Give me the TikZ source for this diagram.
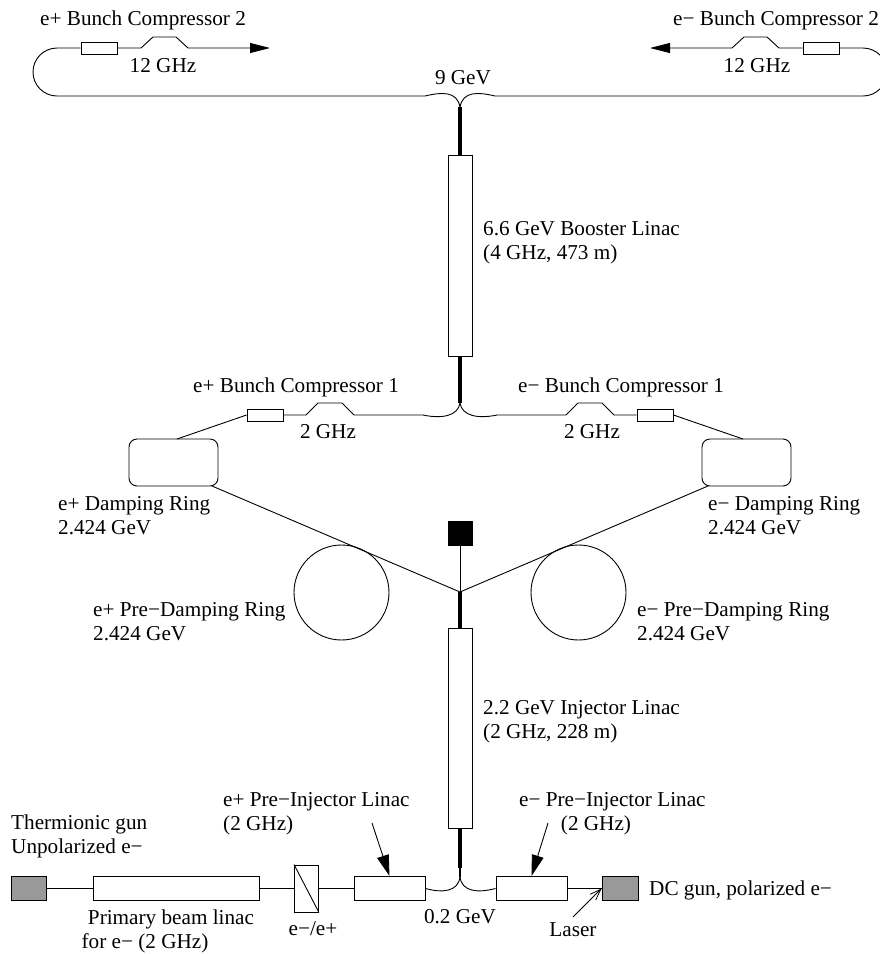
\documentclass[tikz,border=0pt]{standalone}
\usepackage{fontspec}
\setmainfont{Liberation Serif}
\usetikzlibrary{arrows.meta,positioning}
\definecolor{GunGray}{HTML}{999999}
\tikzset{
  beamline/.style={draw=black, line width=0.9pt},
  thickline/.style={draw=black, line width=3.6pt},
  linacbox/.style={draw=black, line width=0.9pt, fill=white, rectangle, minimum width=0pt, minimum height=0pt, inner sep=0pt},
  gunbox/.style={linacbox, fill=GunGray},
  ringbox/.style={linacbox, rounded corners=8pt},
  ringcirc/.style={draw=black, line width=0.9pt, fill=white, circle, inner sep=0pt},
  lbl/.style={font=\fontsize{21.2}{24}\selectfont, inner sep=0pt, align=left},
  tipbig/.style={-{Triangle[length=20pt,width=10pt]}},
  tipmid/.style={-{Triangle[length=21pt,width=12pt]}}
}
\begin{document}
\begin{tikzpicture}[x=1pt,y=-1pt]
  \useasboundingbox (0,0) rectangle (880,954);
  % top transfer lines
  \node[linacbox, minimum width=36pt, minimum height=12pt] (bcTopL) at (99,48) {};
  \node[linacbox, minimum width=36pt, minimum height=12pt] (bcTopR) at (821,48) {};
  \coordinate (tipTopL) at (270,48);
  \coordinate (tipTopR) at (650,48);
  \coordinate (jTop) at (460,107);
  \draw[beamline] (bcTopL.west) -- (57,48) arc[start angle=-90, end angle=-270, radius=24] -- (425,96)
    .. controls (442,92) and (457,91) .. (jTop);
  \draw[beamline] (bcTopR.east) -- (863,48) arc[start angle=-90, end angle=90, radius=24] -- (495,96)
    .. controls (478,92) and (463,91) .. (jTop);
  \draw[beamline, tipbig] (bcTopL.east) -- (141,48) -- (153,37) -- (176,37) -- (188,48) -- (tipTopL);
  \draw[beamline, tipbig] (bcTopR.west) -- (779,48) -- (767,37) -- (744,37) -- (732,48) -- (tipTopR);
  % booster
  \node[linacbox, minimum width=24pt, minimum height=201pt] (booster) at (460,255.5) {};
  \draw[thickline] (jTop) -- (booster.north);
  % bunch compressors 1
  \node[linacbox, minimum width=36pt, minimum height=12pt] (bcMidL) at (265,415) {};
  \node[linacbox, minimum width=36pt, minimum height=12pt] (bcMidR) at (655,415) {};
  \node[ringbox, minimum width=89pt, minimum height=47pt] (drL) at (173.5,462.5) {};
  \node[ringbox, minimum width=89pt, minimum height=47pt] (drR) at (746.5,462.5) {};
  \coordinate (jMid) at (460,403);
  \coordinate (drLin) at (177,439);
  \coordinate (drRin) at (743,439);
  \coordinate (drLout) at (212,486);
  \coordinate (drRout) at (708,486);
  \draw[thickline] (booster.south) -- (jMid);
  \draw[beamline] (bcMidL.east) -- (306,415) -- (318,403) -- (342,403) -- (354,415) -- (423,415)
    .. controls (442,419) and (458,416) .. (jMid);
  \draw[beamline] (bcMidR.west) -- (614,415) -- (602,403) -- (578,403) -- (566,415) -- (497,415)
    .. controls (478,419) and (462,416) .. (jMid);
  \draw[beamline] (bcMidL.west) -- (drLin);
  \draw[beamline] (bcMidR.east) -- (drRin);
  % pre-damping rings
  \node[ringcirc, minimum size=95pt] (pdrL) at (341.5,592.5) {};
  \node[ringcirc, minimum size=95pt] (pdrR) at (578.5,592.5) {};
  \node[gunbox, fill=black, minimum width=24pt, minimum height=24pt] (src) at (460,533) {};
  \coordinate (jLow) at (460,592);
  \draw[beamline] (drLout) -- (jLow);
  \draw[beamline] (drRout) -- (jLow);
  \draw[beamline] (src.south) -- (jLow);
  % injector
  \node[linacbox, minimum width=24pt, minimum height=200pt] (injector) at (460,728) {};
  \draw[thickline] (jLow) -- (injector.north);
  \coordinate (jBot) at (460,877);
  \draw[thickline] (injector.south) -- (460,868);
  \draw[line width=1.8pt] (460,866) -- (jBot);
  % bottom line
  \node[gunbox, minimum width=35pt, minimum height=24pt] (gunL) at (28.5,888.5) {};
  \node[linacbox, minimum width=166pt, minimum height=24pt] (primary) at (176,888.5) {};
  \node[linacbox, minimum width=24pt, minimum height=47pt] (conv) at (306.5,888.5) {};
  \node[linacbox, minimum width=71pt, minimum height=24pt] (preL) at (389.5,888.5) {};
  \node[linacbox, minimum width=71pt, minimum height=24pt] (preR) at (531.5,888.5) {};
  \node[gunbox, minimum width=36pt, minimum height=24pt] (gunR) at (620,888.5) {};
  \draw[beamline] (gunL) -- (primary);
  \draw[beamline] (primary) -- (conv);
  \draw[beamline] (conv) -- (preL);
  \draw[beamline] (conv.north west) -- (conv.south east);
  \draw[beamline] (preR) -- (gunR);
  \draw[beamline] (preL.east) .. controls (442,893) and (458,892) .. (jBot);
  \draw[beamline] (preR.west) .. controls (478,893) and (462,892) .. (jBot);
  % pointers
  \coordinate (ptrL) at (372,823);
  \coordinate (ptrR) at (548,823);
  \coordinate (ptrLaser) at (573,917);
  \draw[beamline, tipmid] (ptrL) -- (preL.north);
  \draw[beamline, tipmid] (ptrR) -- (preR.north);
  \draw[line width=0.8pt, -{Straight Barb[length=11pt,width=8pt]}] (ptrLaser) -- (gunR.west);
  % labels
  \node[lbl, anchor=base west] (tTopL) at (40,25) {e+ Bunch Compressor 2};
  \node[lbl, anchor=base west] (tTopR) at (673,25) {e− Bunch Compressor 2};
  \node[lbl, anchor=base] (gTopL) at (163,72) {12 GHz};
  \node[lbl, anchor=base] (gTopR) at (757,72) {12 GHz};
  \node[lbl, anchor=base] (eTop) at (463,84) {9 GeV};
  \node[lbl, anchor=base west] (tBoost) at (483,235) {6.6 GeV Booster Linac};
  \node[lbl, anchor=base west] (tBoostB) at (483,259) {(4 GHz, 473 m)};
  \node[lbl, anchor=base west] (tMidL) at (193,392) {e+ Bunch Compressor 1};
  \node[lbl, anchor=base west] (tMidR) at (518,392) {e− Bunch Compressor 1};
  \node[lbl, anchor=base] (gMidL) at (328,438) {2 GHz};
  \node[lbl, anchor=base] (gMidR) at (592,438) {2 GHz};
  \node[lbl, anchor=base west] (tDrL) at (58,510) {e+ Damping Ring};
  \node[lbl, anchor=base west] (tDrLb) at (58,534) {2.424 GeV};
  \node[lbl, anchor=base west] (tDrR) at (708,510) {e− Damping Ring};
  \node[lbl, anchor=base west] (tDrRb) at (708,534) {2.424 GeV};
  \node[lbl, anchor=base west] (tPdrL) at (93,616) {e+ Pre−Damping Ring};
  \node[lbl, anchor=base west] (tPdrLb) at (93,640) {2.424 GeV};
  \node[lbl, anchor=base west] (tPdrR) at (637,616) {e− Pre−Damping Ring};
  \node[lbl, anchor=base west] (tPdrRb) at (637,640) {2.424 GeV};
  \node[lbl, anchor=base west] (tInj) at (483,714) {2.2 GeV Injector Linac};
  \node[lbl, anchor=base west] (tInjb) at (483,738) {(2 GHz, 228 m)};
  \node[lbl, anchor=base west] (tPreL) at (223,806) {e+ Pre−Injector Linac};
  \node[lbl, anchor=base west] (tPreLb) at (223,830) {(2 GHz)};
  \node[lbl, anchor=base west] (tPreR) at (519,806) {e− Pre−Injector Linac};
  \node[lbl, anchor=base] (tPreRb) at (596,830) {(2 GHz)};
  \node[lbl, anchor=base west] (tTherm) at (11,829) {Thermionic gun};
  \node[lbl, anchor=base west] (tThermb) at (11,853) {Unpolarized e−};
  \node[lbl, anchor=base west] (tDc) at (649,895) {DC gun, polarized e−};
  \node[lbl, anchor=base] (tPrim) at (171,924) {Primary beam linac};
  \node[lbl, anchor=base] (tPrimb) at (145,948) {for e− (2 GHz)};
  \node[lbl, anchor=base] (tConv) at (313,935) {e−/e+};
  \node[lbl, anchor=base] (tE) at (460,923) {0.2 GeV};
  \node[lbl, anchor=base] (tLaser) at (573,936) {Laser};
\end{tikzpicture}
\end{document}
